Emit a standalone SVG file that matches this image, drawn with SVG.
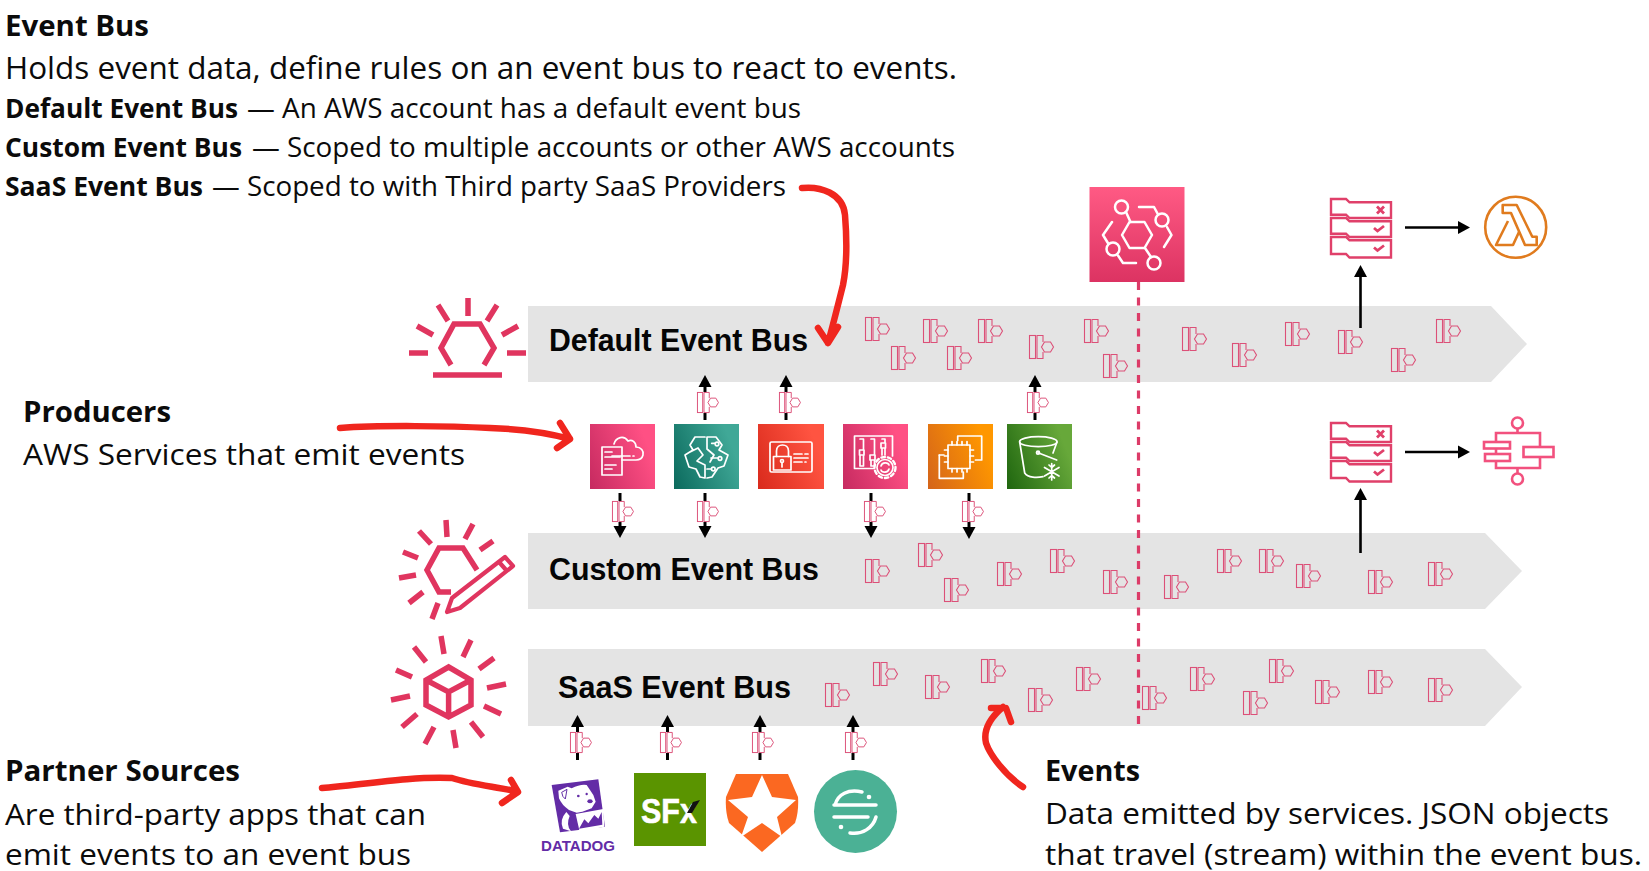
<svg xmlns="http://www.w3.org/2000/svg" width="1649" height="871" viewBox="0 0 1649 871">
<style>
.t{font-family:"Open Sans","Liberation Sans",sans-serif;fill:#0b0b0b}
.b{font-weight:700}
.bus{fill:#e4e4e4}
.lbl{font-family:"Liberation Sans",Arial,sans-serif;font-weight:700;font-size:31px;fill:#050505}
.pk{fill:none;stroke:#e0355f;stroke-width:5.5}
.w{fill:none;stroke:#fff;stroke-width:1.7;stroke-linejoin:round;stroke-linecap:round}
.rd{fill:none;stroke:#f0261e;stroke-width:6.5;stroke-linecap:round;stroke-linejoin:round}
.ar{fill:none;stroke:#000;stroke-width:3}
.ar2{fill:none;stroke:#000;stroke-width:2.6}
.st{fill:none;stroke:#e0406a;stroke-width:2.4}
</style>
<defs>
<marker id="ah" markerUnits="userSpaceOnUse" markerWidth="16" markerHeight="16" refX="0" refY="8" orient="auto"><path d="M0 1.500L12 8L0 14.500z" fill="#000"/></marker>
<linearGradient id="gp" x1="0" y1="1" x2="1" y2="0.6"><stop offset="0" stop-color="#c62a60"/><stop offset="1" stop-color="#ff5084"/></linearGradient>
<linearGradient id="gt" x1="0" y1="1" x2="1" y2="0.6"><stop offset="0" stop-color="#0b6a5d"/><stop offset="1" stop-color="#40a897"/></linearGradient>
<linearGradient id="gr" x1="0" y1="1" x2="1" y2="0.6"><stop offset="0" stop-color="#d92a1c"/><stop offset="1" stop-color="#ff5441"/></linearGradient>
<linearGradient id="go" x1="0" y1="1" x2="1" y2="0.6"><stop offset="0" stop-color="#d4641a"/><stop offset="1" stop-color="#ff9700"/></linearGradient>
<linearGradient id="gg" x1="0" y1="1" x2="1" y2="0.6"><stop offset="0" stop-color="#1f660f"/><stop offset="1" stop-color="#67a83a"/></linearGradient>
<linearGradient id="gb" x1="0" y1="0" x2="0" y2="1"><stop offset="0" stop-color="#ff5a84"/><stop offset="1" stop-color="#dc3362"/></linearGradient>
<g id="ev">
<rect x="0" y="0" width="15" height="24" stroke="none"/>
<g stroke="#dc5078" stroke-width="1.1" fill="none">
<rect x="0.500" y="0.500" width="6" height="23"/>
<path d="M14 7V0.500H8V23.500H14V17"/>
<path d="M15.500 7L21.500 7L24.500 12L21.500 17L15.500 17L12.500 12Z"/>
</g>
</g>
<g id="stack">
<g class="st">
<path d="M1 1H16L19.500 4.300H61V20H19.500L16 16.700H1Z"/>
<path d="M1 20H16L19.500 23.300H61V39H19.500L16 35.700H1Z"/>
<path d="M1 39H16L19.500 42.300H61V59.500H19.500L16 56H1Z"/>
</g>
<path d="M47 8.500l7 7M54 8.500l-7 7M44 30l3.500 3l6.500 -5M44 49.500l3.500 3l6.500 -5" fill="none" stroke="#e0406a" stroke-width="2.800"/>
</g>
</defs>
<rect width="1649" height="871" fill="#fff"/>

<g id="text-event-bus">
<text class="t b" x="5" y="36" font-size="28" textLength="144" lengthAdjust="spacingAndGlyphs">Event Bus</text>
<text class="t" x="5" y="79" font-size="31" textLength="952" lengthAdjust="spacingAndGlyphs">Holds event data, define rules on an event bus to react to events.</text>
<text class="t" y="118" font-size="26.500"><tspan class="b" x="5" textLength="233" lengthAdjust="spacingAndGlyphs">Default Event Bus</tspan><tspan x="247" textLength="554" lengthAdjust="spacingAndGlyphs">— An AWS account has a default event bus</tspan></text>
<text class="t" y="157" font-size="26.500"><tspan class="b" x="5" textLength="237" lengthAdjust="spacingAndGlyphs">Custom Event Bus</tspan><tspan x="252" textLength="703" lengthAdjust="spacingAndGlyphs">— Scoped to multiple accounts or other AWS accounts</tspan></text>
<text class="t" y="196" font-size="26.500"><tspan class="b" x="5" textLength="198" lengthAdjust="spacingAndGlyphs">SaaS Event Bus</tspan><tspan x="212" textLength="574" lengthAdjust="spacingAndGlyphs">— Scoped to with Third party SaaS Providers</tspan></text>
</g>
<g id="text-producers">
<text class="t b" x="23" y="422" font-size="29" textLength="148" lengthAdjust="spacingAndGlyphs">Producers</text>
<text class="t" x="23" y="465" font-size="30" textLength="442" lengthAdjust="spacingAndGlyphs">AWS Services that emit events</text>
</g>
<g id="text-partner">
<text class="t b" x="5" y="781" font-size="29" textLength="235" lengthAdjust="spacingAndGlyphs">Partner Sources</text>
<text class="t" x="5" y="825" font-size="30" textLength="421" lengthAdjust="spacingAndGlyphs">Are third-party apps that can</text>
<text class="t" x="5" y="865" font-size="30" textLength="406" lengthAdjust="spacingAndGlyphs">emit events to an event bus</text>
</g>
<g id="text-events">
<text class="t b" x="1045" y="781" font-size="29" textLength="95" lengthAdjust="spacingAndGlyphs">Events</text>
<text class="t" x="1045" y="824" font-size="30" textLength="564" lengthAdjust="spacingAndGlyphs">Data emitted by services. JSON objects</text>
<text class="t" x="1045" y="865" font-size="30" textLength="597" lengthAdjust="spacingAndGlyphs">that travel (stream) within the event bus.</text>
</g>

<g id="bus-default">
<polygon class="bus" points="528,306 1491,306 1527,344 1491,382 528,382"/>
<text class="lbl" x="549" y="351" textLength="259" lengthAdjust="spacingAndGlyphs">Default Event Bus</text>
<g fill="none">
<use href="#ev" x="865" y="317"/><use href="#ev" x="891" y="346"/><use href="#ev" x="923" y="319"/><use href="#ev" x="947" y="346"/><use href="#ev" x="978" y="319"/><use href="#ev" x="1029" y="335"/><use href="#ev" x="1084" y="319"/><use href="#ev" x="1103" y="354"/><use href="#ev" x="1182" y="327"/><use href="#ev" x="1232" y="343"/><use href="#ev" x="1285" y="322"/><use href="#ev" x="1338" y="330"/><use href="#ev" x="1391" y="348"/><use href="#ev" x="1436" y="319"/>
</g>
</g>
<g id="bus-custom">
<polygon class="bus" points="528,533 1485,533 1522,571 1485,609 528,609"/>
<text class="lbl" x="549" y="580" textLength="270" lengthAdjust="spacingAndGlyphs">Custom Event Bus</text>
<g fill="none">
<use href="#ev" x="865" y="559"/><use href="#ev" x="918" y="543"/><use href="#ev" x="944" y="578"/><use href="#ev" x="997" y="562"/><use href="#ev" x="1050" y="549"/><use href="#ev" x="1103" y="570"/><use href="#ev" x="1164" y="575"/><use href="#ev" x="1217" y="549"/><use href="#ev" x="1259" y="549"/><use href="#ev" x="1296" y="564"/><use href="#ev" x="1368" y="570"/><use href="#ev" x="1428" y="562"/>
</g>
</g>
<g id="bus-saas">
<polygon class="bus" points="528,649 1485,649 1522,687 1485,726 528,726"/>
<text class="lbl" x="558" y="698" textLength="233" lengthAdjust="spacingAndGlyphs">SaaS Event Bus</text>
<g fill="none">
<use href="#ev" x="825" y="683"/><use href="#ev" x="873" y="662"/><use href="#ev" x="925" y="675"/><use href="#ev" x="981" y="659"/><use href="#ev" x="1028" y="688"/><use href="#ev" x="1076" y="667"/><use href="#ev" x="1142" y="686"/><use href="#ev" x="1190" y="667"/><use href="#ev" x="1243" y="691"/><use href="#ev" x="1269" y="659"/><use href="#ev" x="1315" y="680"/><use href="#ev" x="1368" y="670"/><use href="#ev" x="1428" y="678"/>
</g>
</g>

<g id="icon-default-bus" class="pk">
<path d="M468 298V316M438 305L448 321M497 305L487 321M417 326L433 335M518 326L502 335M409 353H428M507 353H526M433 375H502"/>
<path d="M451 365L441 348L454 324H480L494 348L484 365"/>
</g>
<g id="icon-custom-bus" class="pk">
<path d="M446 520L447 537M419 531L431 544M473 524L465 539M493 541L480 550M403 552L418 558M399 578L416 575M423 592L409 603M438 603L432 619"/>
<path d="M477 570L463 548H439L427 570L439 592H451"/>
<path stroke-linejoin="round" stroke-width="4.200" d="M452 598L505 557L513 566L460 608L447 612ZM499 562L507 571"/>
</g>
<g id="icon-saas-bus" class="pk">
<path d="M441 636L444 654M471 640L463 657M494 658L479 669M414 647L426 662M396 670L412 677M506 684L487 688M391 700L410 696M501 714L484 706M402 727L417 714M483 737L471 722M425 744L434 727M456 748L453 730"/>
<path d="M448.600 667L471 680V705L448.600 717L426 705V680ZM426 680L448.600 692L471 680M448.600 692V717"/>
</g>

<g id="eventbridge">
<rect x="1089.500" y="187" width="95" height="95" fill="url(#gb)"/>
<g class="w" style="stroke-width:2.500" transform="translate(1089.500 187)">
<path d="M40 35H55L62.500 48L55 61H40L32.500 48Z"/>
<circle cx="32" cy="20" r="6.500"/><path d="M36.500 25L41 35"/>
<circle cx="72.500" cy="33" r="6.500"/><path d="M49.500 20H64.500L68 26.500M77.500 40L82 48L74.500 60"/>
<circle cx="23.500" cy="62" r="6.500"/><path d="M22.500 35L13.500 48L19 57M28.500 68.500L33.500 76H46.500"/>
<circle cx="64.500" cy="76" r="6.500"/><path d="M55.500 61L61.500 70"/>
</g>
</g>

<g id="service-1"><rect x="590" y="424" width="65" height="65" fill="url(#gp)"/>
<g class="w" transform="translate(590 424)"><path d="M12 23H32V51H12ZM15 28H22M15 33H30M15 41H26M15 45H22"/><path d="M24 20C26 13 34 11 38 17C42 15 46 18 46 23C51 23 54 27 53 31C52 35 49 36 46 36H32M22 32H40M43 32H44"/></g></g>
<g id="service-2"><rect x="674" y="424" width="65" height="65" fill="url(#gt)"/>
<g class="w" transform="translate(674 424)"><path d="M31 13H21L16 21L19 26L11 31L15 43L22 45L26 53L31 54V41L23 37L29 31L24 24L16 28M33 54L38 53L44 44L50 42L54 31L45 26L48 21L42 13H33V25L40 31L36 38"/><path d="M37.700 19.300H41M37 34H44M33 45H37"/><circle cx="43" cy="20" r="1.800"/><circle cx="46" cy="34.500" r="1.800"/><circle cx="39.300" cy="45" r="1.800"/></g></g>
<g id="service-3"><rect x="758" y="424" width="66" height="65" fill="url(#gr)"/>
<g class="w" transform="translate(758 424)"><rect x="12" y="18" width="42" height="30" rx="1.500"/><rect x="15.500" y="32.500" width="17.500" height="13.500"/><path d="M18.500 32.500V27C18.500 19 30.500 19 30.500 27V32.500"/><circle cx="24" cy="37" r="1.500"/><path d="M24 38.500V43M36 30H44M47 30H50M36 34H50M36 38H44M47 38H48"/></g></g>
<g id="service-4"><rect x="843" y="424" width="65" height="65" fill="url(#gp)"/>
<g class="w" transform="translate(843 424)"><path d="M31 44.500H11.500V12H49.500V32"/><path d="M16.500 26H21V31H16.500ZM27 31H32V36H27ZM38 19H42.500V24H38ZM17 15H20.500V26M17 31V42H20.500V31M28 15H31.500V31M28 36V42H31.500V36M39 15H42V19M39 24V31M42 24V31"/><circle cx="42" cy="43.500" r="8"/><circle cx="42" cy="43.500" r="10.500" stroke-dasharray="3.500 3" style="stroke-width:2.400"/><path d="M38 42C39 38 45 38 46 41M46 45C45 49 39 49 38 46"/></g></g>
<g id="service-5"><rect x="928" y="424" width="65" height="65" fill="url(#go)"/>
<g class="w" transform="translate(928 424)"><path d="M29.700 16.500V12H53.700V36H47.500M11.300 31V54.300H35.300V48"/><path d="M16 31H11.300"/><rect x="20" y="21" width="22" height="23.500"/><path d="M24 17.500V21M29 17.500V21M34 17.500V21M39 17.500V21M24 44.500V48M29 44.500V48M34 44.500V48M39 44.500V48M16.500 26H20M16.500 32H20M16.500 38H20M42 26H45.500M42 32H45.500M42 38H45.500"/></g></g>
<g id="service-6"><rect x="1007" y="424" width="65" height="65" fill="url(#gg)"/>
<g class="w" transform="translate(1007 424)"><ellipse cx="31.300" cy="17.700" rx="18.700" ry="5"/><path d="M12.700 18L17.700 49C21 54 30 54 36 52.700M50 18L46 29M31 28.700L49.700 36"/><circle cx="31" cy="28.700" r="1.500"/><path d="M44.700 39.500V56M37.500 43.500L52 52M52 43.500L37.500 52M42 41L44.700 43.500L47.500 41M42 54L44.700 51.500L47.500 54"/></g></g>

<g id="partner-datadog">
<g transform="translate(545 770) scale(.3333)">
<polygon points="20,45 160,28 180,170 45,187" fill="#632ca6"/>
<path d="M40 62L68 50L80 55Q105 42 125 45L145 75L152 95L140 115L112 125L95 128L72 120Q50 105 42 85Z" fill="#fff"/>
<path d="M50 67L66 58L61 87Q52 82 50 67Z" fill="#fff" stroke="#632ca6" stroke-width="3"/>
<circle cx="100" cy="78" r="4" fill="#632ca6"/><circle cx="125" cy="72" r="3.500" fill="#632ca6"/><ellipse cx="135" cy="94" rx="8" ry="6" fill="#632ca6"/>
<path d="M64 126Q42 150 54 176L78 184Q62 165 74 138Z" fill="#fff"/>
<polygon points="92,132 175,117 178,170 104,185" fill="#fff"/>
<polygon points="102,176 118,148 130,160 148,135 160,146 170,126 172,164" fill="#632ca6"/>
</g>
<text x="578" y="851" text-anchor="middle" font-family="Liberation Sans, Arial, sans-serif" font-weight="700" font-size="14.500" fill="#632ca6" textLength="74" lengthAdjust="spacingAndGlyphs">DATADOG</text>
</g>
<g id="partner-sfx">
<rect x="634" y="773" width="72" height="73" fill="#5a9400"/>
<text x="641" y="823" font-family="Liberation Sans, Arial, sans-serif" font-weight="700" font-size="35" fill="#fff" stroke="#fff" stroke-width=".6" textLength="56" lengthAdjust="spacingAndGlyphs">SFx</text>
<polygon points="693,802 700,800 692,813 687,813" fill="#111"/>
</g>
<g id="partner-auth0">
<path d="M736 774H788L798 797Q799 812 795 823L762 852L729 823Q725 812 726 797Z" fill="#fb6821"/>
<polygon points="762,775 772,797 796,800 777,817 782,837 762,823 741,837 748,817 728,800 752,797" fill="#fff"/>
</g>
<g id="partner-segment">
<circle cx="855.500" cy="811.500" r="41.500" fill="#4bb195"/>
<g fill="none" stroke="#fff" stroke-width="3.500" stroke-linecap="round"><path d="M834 805H876M834 817H868M862 792C848 789 838 794 835 805M876 817C873 828 862 835 850 833"/></g>
<circle cx="869" cy="797" r="2.300" fill="#fff"/><circle cx="841" cy="827" r="2.300" fill="#fff"/>
</g>

<g id="rules-1"><use href="#stack" x="1330" y="198"/></g>
<g id="rules-2"><use href="#stack" x="1330" y="422"/></g>
<g id="target-lambda" fill="none" stroke="#e07b1e" stroke-width="2.600">
<circle cx="1515.700" cy="227.300" r="30.500"/>
<path d="M1502.700 205H1516.700L1532.300 236.700H1536.700V245H1525L1511 213H1502.700Z" stroke-linejoin="round"/>
<path d="M1508 221L1496 245H1513L1519 232" stroke-linejoin="round"/>
</g>
<g id="target-stepfunctions" fill="none" stroke="#f2517e" stroke-width="2.600">
<circle cx="1517.500" cy="423" r="5.500"/><circle cx="1517.500" cy="479" r="5.500"/>
<path d="M1517.500 428.500V433M1496 442V433H1540V447M1540 457V468H1496V461M1517.500 468V473.500"/>
<rect x="1484" y="442" width="26" height="6.500"/><rect x="1485" y="454" width="25" height="7"/><rect x="1523.500" y="447" width="30" height="10"/>
<path d="M1496 448.500V454"/>
</g>

<g id="connectors">
<path id="timeline" d="M1138.500 282V726" fill="none" stroke="#dc3b68" stroke-width="3.200" stroke-dasharray="8 7.500"/>
<g class="ar">
<path d="M705 420V387" marker-end="url(#ah)"/><path d="M786 420V387" marker-end="url(#ah)"/><path d="M1035 420V387" marker-end="url(#ah)"/>
<path d="M620 493V526" marker-end="url(#ah)"/><path d="M705 493V526" marker-end="url(#ah)"/><path d="M871 493V526" marker-end="url(#ah)"/><path d="M969 493V527" marker-end="url(#ah)"/>
<path d="M577.500 760V727" marker-end="url(#ah)"/><path d="M667.500 760V727" marker-end="url(#ah)"/><path d="M760 760V727" marker-end="url(#ah)"/><path d="M853 760V727" marker-end="url(#ah)"/>
</g>
<g class="ar2">
<path d="M1360.500 328V277" marker-end="url(#ah)"/><path d="M1360.500 553V500" marker-end="url(#ah)"/>
<path d="M1405 227.500H1458" marker-end="url(#ah)"/><path d="M1405 452H1458" marker-end="url(#ah)"/>
</g>
<g fill="#fff">
<use href="#ev" transform="translate(697 392) scale(.875)"/><use href="#ev" transform="translate(779 392) scale(.875)"/><use href="#ev" transform="translate(1027 392) scale(.875)"/>
<use href="#ev" transform="translate(612 501) scale(.875)"/><use href="#ev" transform="translate(697 501) scale(.875)"/><use href="#ev" transform="translate(864 501) scale(.875)"/><use href="#ev" transform="translate(962 501) scale(.875)"/>
<use href="#ev" transform="translate(570 732) scale(.875)"/><use href="#ev" transform="translate(660 732) scale(.875)"/><use href="#ev" transform="translate(752 732) scale(.875)"/><use href="#ev" transform="translate(845 732) scale(.875)"/>
</g>
<g id="red-annotations" class="rd">
<path d="M802 188C820 186 843 193 845 215C847 240 847 265 843 285C838 305 833 325 828 343M818 328L828 343L838 327"/>
<path d="M340 428C380 425 450 426 490 428C520 429 545 432 570 439M560 423L570 439L557 448"/>
<path d="M322 788C360 785 410 776 452 778C470 784 490 786 515 791M511 780L518 792L502 803"/>
<path d="M1023 787C1005 775 990 755 986 743C983 730 990 718 1003 707M991 708H1006L1011 722"/>
</g>
</g>
</svg>
